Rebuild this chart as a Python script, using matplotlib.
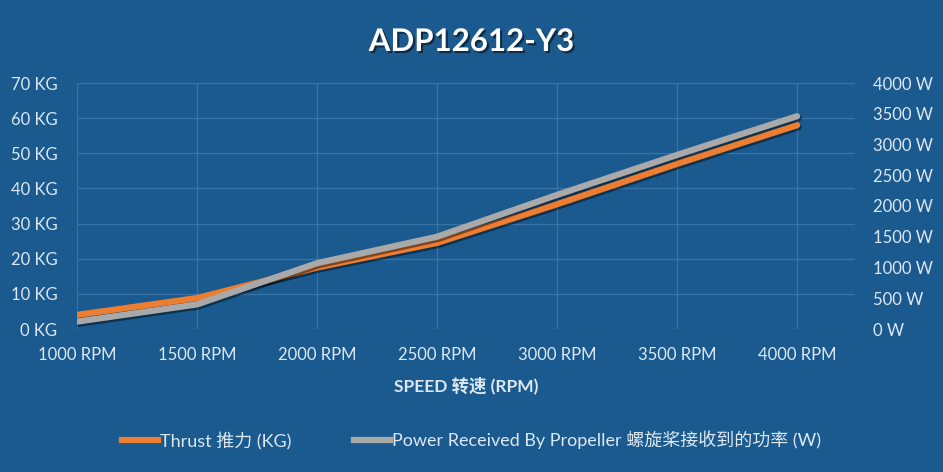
import matplotlib.pyplot as plt
import matplotlib.patheffects as pe
from matplotlib.lines import Line2D

# data
speed = [1000, 1500, 2000, 2500, 3000, 3500, 4000]
thrust_kg = [4.0, 8.8, 17.5, 24.5, 35.5, 47.0, 58.0]
power_w = [120, 400, 1070, 1500, 2180, 2830, 3460]

kg_ticks = [0, 10, 20, 30, 40, 50, 60, 70]
w_ticks = [0, 500, 1000, 1500, 2000, 2500, 3000, 3500, 4000]

BG = "#1a5a8f"
GRID = "#3a73a5"
TXT = "#dce7f1"
ORANGE = "#ed7d31"
GRAY = "#a9a9a9"

plt.rcParams['font.family'] = ['Lato', 'Noto Sans CJK SC', 'DejaVu Sans']

fig = plt.figure(figsize=(9.43, 4.72), dpi=100, facecolor=BG)
ax = fig.add_axes([77 / 943, 1 - 329 / 472, (855 - 77) / 943, (329 - 83) / 472])
ax.set_facecolor(BG)
ax2 = ax.twinx()

shadow = [pe.SimpleLineShadow(offset=(1.2, -1.5), shadow_color='black', alpha=0.45),
          pe.Normal()]

ax.plot(speed, thrust_kg, color=ORANGE, lw=4.5, solid_capstyle='round',
        path_effects=shadow, zorder=3)
ax2.plot(speed, power_w, color=GRAY, lw=4.5, solid_capstyle='round',
         path_effects=shadow, zorder=3)

step = speed[1] - speed[0]
ax.set_xlim(speed[0], speed[-1] + step * 0.483)
ax.set_ylim(0, 70)
ax2.set_ylim(0, 4000)

ax.set_xticks(speed)
ax.set_xticklabels([f"{s} RPM" for s in speed])
ax.set_yticks(kg_ticks)
ax.set_yticklabels([f"{v} KG" for v in kg_ticks])
ax2.set_yticks(w_ticks)
ax2.set_yticklabels([f"{v} W" for v in w_ticks])

ax.grid(True, color=GRID, lw=0.9)
ax.set_axisbelow(True)
for a in (ax, ax2):
    for s in a.spines.values():
        s.set_visible(False)
    a.tick_params(length=0, colors=TXT, labelsize=12)
ax.tick_params(axis='x', pad=13)
ax.tick_params(axis='y', pad=14)
ax2.tick_params(axis='y', pad=13)

ax.set_xlabel("SPEED 转速 (RPM)", color=TXT, fontsize=12.5, fontweight='bold',
              labelpad=10)

fig.text(0.5, 1 - 42 / 472, "ADP12612-Y3", ha='center', va='center',
         color='white', fontsize=22.5, fontweight='bold',
         path_effects=[pe.withSimplePatchShadow(offset=(1.5, -1.5),
                                                shadow_rgbFace='black', alpha=0.5)])

handles = [Line2D([], [], color=ORANGE, lw=4.5),
           Line2D([], [], color=GRAY, lw=4.5)]
labels = ["Thrust 推力 (KG)", "Power Received By Propeller 螺旋桨接收到的功率 (W)"]
leg = fig.legend(handles, labels, loc='center', bbox_to_anchor=(0.5, 1 - 440 / 472),
                 ncol=2, frameon=False, fontsize=13, handlelength=2.0,
                 handletextpad=0.1, columnspacing=3.5)
for t in leg.get_texts():
    t.set_color(TXT)

fig.savefig("out.png", dpi=100, facecolor=BG)
